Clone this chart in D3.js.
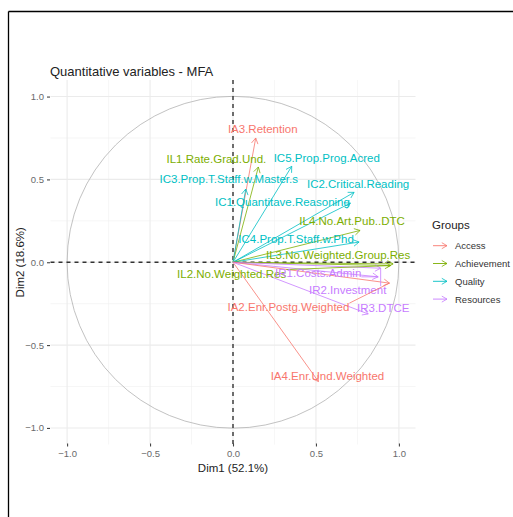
<!DOCTYPE html>
<html>
<head>
<meta charset="utf-8">
<script src="https://cdn.jsdelivr.net/npm/d3@7"></script>
<style>
  html, body { margin: 0; padding: 0; background: #fff; }
  svg { display: block; }
  text { font-family: "Liberation Sans", Arial, sans-serif; }
</style>
</head>
<body>
<svg id="chart" width="513" height="517"></svg>
<script>
// Variable coordinates on the first two MFA dimensions
const variables = [
  "IA3.Retention", "IL1.Rate.Grad.Und.", "IC5.Prop.Prog.Acred",
  "IC3.Prop.T.Staff.w.Master.s", "IC2.Critical.Reading", "IC1.Quantitave.Reasoning",
  "IL4.No.Art.Pub..DTC", "IC4.Prop.T.Staff.w.Phd", "IL3.No.Weighted.Group.Res",
  "IL2.No.Weighted.Res", "IR1.Costs.Admin", "IR2.Investment",
  "IA2.Enr.Postg.Weighted", "IR3.DTCE", "IA4.Enr.Und.Weighted"
];
const groupOf = [
  "Access", "Achievement", "Quality",
  "Quality", "Quality", "Quality",
  "Achievement", "Quality", "Achievement",
  "Achievement", "Resources", "Resources",
  "Access", "Resources", "Access"
];
const dim1 = [0.137, 0.153, 0.354, 0.077, 0.730, 0.708, 0.766, 0.760, 0.965, 0.950, 0.875, 0.890, 0.943, 0.815, 0.515];
const dim2 = [0.750, 0.575, 0.579, 0.442, 0.422, 0.357, 0.192, 0.122, -0.010, -0.020, -0.088, -0.036, -0.126, -0.312, -0.720];

const groups = ["Access", "Achievement", "Quality", "Resources"];
const groupColors = ["#F8766D", "#7CAE00", "#00BFC4", "#C77CFF"];

const ticks = [-1.0, -0.5, 0.0, 0.5, 1.0];
const minorTicks = [-0.75, -0.25, 0.25, 0.75];

const chartTitle = "Quantitative variables - MFA";
const xTitle = "Dim1 (52.1%)";
const yTitle = "Dim2 (18.6%)";
const legendTitle = "Groups";

// Pixel offsets of each label from its arrow tip (label centre, baseline), as placed by the repel step
const labelNudge = [
  [7, -5], [-42, -4], [35, -4],
  [-17, -6], [4, -4], [-68, 3],
  [-8, -5], [-63, 1], [-55, -5],
  [-159, 12], [-60, 0], [-33, 26],
  [-101, 28], [15, -2], [9, -2]
];

const svg = d3.select("#chart");
const W = 513, H = 517;

// outer frame (left and top edges visible)
svg.append("line").attr("x1", 8.5).attr("x2", W).attr("y1", 11.5).attr("y2", 11.5)
  .attr("stroke", "#000").attr("stroke-width", 1.3);
svg.append("line").attr("x1", 8.5).attr("x2", 8.5).attr("y1", 11.5).attr("y2", H)
  .attr("stroke", "#000").attr("stroke-width", 1.3);

const panel = { left: 50.5, right: 415.5, top: 80, bottom: 444.5 };
const x = d3.scaleLinear().domain([-1.1, 1.1]).range([panel.left, panel.right]);
const y = d3.scaleLinear().domain([-1.1, 1.1]).range([panel.bottom, panel.top]);
const color = d3.scaleOrdinal().domain(groups).range(groupColors);

// grid
const grid = svg.append("g");
minorTicks.forEach(t => {
  grid.append("line").attr("x1", x(t)).attr("x2", x(t)).attr("y1", panel.top).attr("y2", panel.bottom)
    .attr("stroke", "#f0f0f0").attr("stroke-width", 0.6);
  grid.append("line").attr("y1", y(t)).attr("y2", y(t)).attr("x1", panel.left).attr("x2", panel.right)
    .attr("stroke", "#f0f0f0").attr("stroke-width", 0.6);
});
ticks.forEach(t => {
  grid.append("line").attr("x1", x(t)).attr("x2", x(t)).attr("y1", panel.top).attr("y2", panel.bottom)
    .attr("stroke", "#ebebeb").attr("stroke-width", 1.1);
  grid.append("line").attr("y1", y(t)).attr("y2", y(t)).attr("x1", panel.left).attr("x2", panel.right)
    .attr("stroke", "#ebebeb").attr("stroke-width", 1.1);
});

// axes
const xAxis = d3.axisBottom(x).tickValues(ticks).tickFormat(d3.format(".1f")).tickSize(3).tickPadding(4);
const yAxis = d3.axisLeft(y).tickValues(ticks).tickFormat(d3.format(".1f")).tickSize(3).tickPadding(3);
const gx = svg.append("g").attr("transform", `translate(0,${panel.bottom - 1})`).call(xAxis);
const gy = svg.append("g").attr("transform", `translate(${panel.left - 0.5},0)`).call(yAxis);
[gx, gy].forEach(g => {
  g.select(".domain").remove();
  g.selectAll(".tick line").attr("stroke", "#444").attr("stroke-width", 1.1);
  g.selectAll(".tick text").attr("fill", "#6a6a6a").attr("font-size", 9.5)
    .attr("font-family", "Liberation Sans, Arial, sans-serif");
});

// correlation circle
svg.append("circle").attr("cx", x(0)).attr("cy", y(0))
  .attr("r", x(1) - x(0)).attr("fill", "none").attr("stroke", "#b3b3b3").attr("stroke-width", 0.8);

// reference lines
svg.append("line").attr("x1", x(0)).attr("x2", x(0)).attr("y1", panel.top).attr("y2", panel.bottom)
  .attr("stroke", "#333").attr("stroke-width", 1.4).attr("stroke-dasharray", "4,4");
svg.append("line").attr("y1", y(0)).attr("y2", y(0)).attr("x1", panel.left).attr("x2", panel.right)
  .attr("stroke", "#333").attr("stroke-width", 1.4).attr("stroke-dasharray", "4,4");

// open arrowhead drawn as two strokes
function arrowHead(g, x1, y1, x2, y2, col, len) {
  const a = Math.atan2(y2 - y1, x2 - x1);
  const spread = Math.PI / 6;
  const p = d3.path();
  p.moveTo(x2 - len * Math.cos(a - spread), y2 - len * Math.sin(a - spread));
  p.lineTo(x2, y2);
  p.lineTo(x2 - len * Math.cos(a + spread), y2 - len * Math.sin(a + spread));
  g.append("path").attr("d", p.toString()).attr("fill", "none")
    .attr("stroke", col).attr("stroke-width", 0.8);
}

const arrows = svg.append("g");
variables.forEach((v, i) => {
  const col = color(groupOf[i]);
  const x0 = x(0), y0 = y(0), x1 = x(dim1[i]), y1 = y(dim2[i]);
  arrows.append("line").attr("x1", x0).attr("y1", y0).attr("x2", x1).attr("y2", y1)
    .attr("stroke", col).attr("stroke-width", 0.8);
  arrowHead(arrows, x0, y0, x1, y1, col, 6.5);
});

// labels with connecting segments where they sit away from their tip
const labels = svg.append("g");
variables.forEach((v, i) => {
  const col = color(groupOf[i]);
  const px = x(dim1[i]), py = y(dim2[i]);
  const t = labels.append("text")
    .attr("x", px + labelNudge[i][0]).attr("y", py + labelNudge[i][1])
    .attr("text-anchor", "middle").attr("fill", col).attr("font-size", 11.5)
    .text(v);
  const b = t.node().getBBox();
  const bx = Math.max(b.x, Math.min(px, b.x + b.width));
  const by = Math.max(b.y + 2, Math.min(py, b.y + b.height - 2));
  const dist = Math.hypot(bx - px, by - py);
  if (dist > 10) {
    labels.append("line").attr("x1", bx).attr("y1", by).attr("x2", px).attr("y2", py)
      .attr("stroke", col).attr("stroke-width", 0.8);
  }
});

// titles
svg.append("text").attr("x", 50).attr("y", 76).attr("font-size", 13).attr("fill", "#222").text(chartTitle);
svg.append("text").attr("x", x(0)).attr("y", 472).attr("text-anchor", "middle")
  .attr("font-size", 11.5).attr("fill", "#222").text(xTitle);
svg.append("text").attr("transform", `translate(24,${(panel.top + panel.bottom) / 2}) rotate(-90)`)
  .attr("text-anchor", "middle").attr("font-size", 11.5).attr("fill", "#222").text(yTitle);

// legend
const lg = svg.append("g");
lg.append("text").attr("x", 432).attr("y", 229).attr("font-size", 11.5).attr("fill", "#222").text(legendTitle);
groups.forEach((gname, i) => {
  const cy = 245.7 + i * 17.8;
  const col = color(gname);
  lg.append("line").attr("x1", 433).attr("x2", 447).attr("y1", cy).attr("y2", cy)
    .attr("stroke", col).attr("stroke-width", 0.9);
  arrowHead(lg, 433, cy, 447, cy, col, 6);
  lg.append("text").attr("x", 455).attr("y", cy + 3.4).attr("font-size", 9.5)
    .attr("fill", "#333").text(gname);
});
</script>
</body>
</html>
